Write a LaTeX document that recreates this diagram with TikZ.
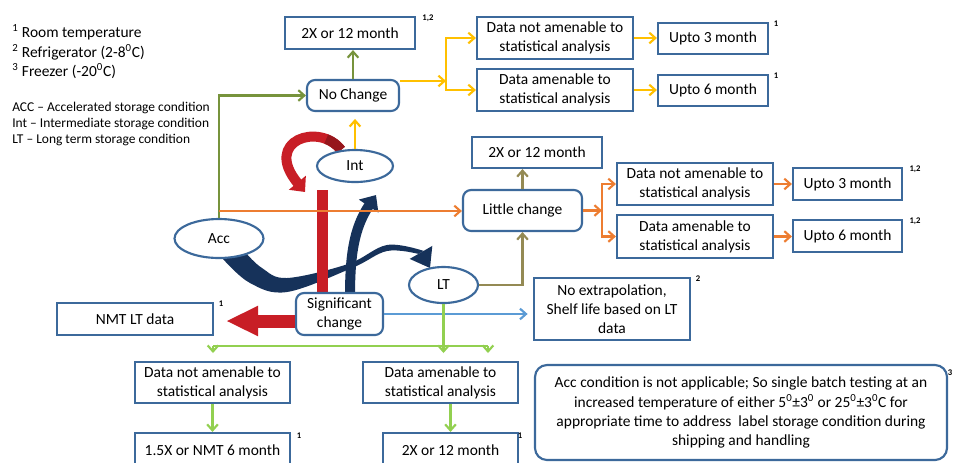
\documentclass[tikz,border=0pt]{standalone}
\usepackage{fontspec}
\setmainfont{Carlito}
\usetikzlibrary{arrows.meta,shapes.geometric,calc}
\definecolor{boxc}{RGB}{60,105,155}
\definecolor{gA}{RGB}{119,147,60}
\definecolor{olA}{RGB}{148,138,84}
\definecolor{lgA}{RGB}{146,208,80}
\definecolor{yA}{RGB}{255,192,0}
\definecolor{orA}{RGB}{237,125,49}
\definecolor{blA}{RGB}{91,155,213}
\definecolor{redc}{RGB}{200,30,38}
\definecolor{darkredc}{RGB}{150,22,28}
\definecolor{navyc}{RGB}{22,50,90}
\begin{document}
\begin{tikzpicture}[x=0.75pt,y=-0.75pt,
  font=\fontsize{11.6pt}{14.3pt}\selectfont,
  box/.style={draw=boxc, line width=1.6pt, fill=white, inner sep=0pt, align=center},
  rbox/.style={box, rounded corners=6pt},
  ell/.style={box, ellipse},
  conn/.style={line width=1.6pt, -{Straight Barb[length=4.5pt,width=8pt]}},
  ln/.style={line width=1.6pt},
  supl/.style={font=\fontsize{6.5pt}{7pt}\selectfont\bfseries, inner sep=0pt},
  legtxt/.style={anchor=base west, inner sep=0pt},
  legsm/.style={legtxt, font=\fontsize{10.1pt}{12pt}\selectfont},
]
\fill[white] (0,0) rectangle (955,462);
\useasboundingbox (0,0) rectangle (955,462);

% decorative block arrows (drawn first, under the nodes)
\fill[navyc] plot[smooth, tension=0.6] coordinates {(223,259) (250,283) (287,292) (352,268) (387,251) (418.4,253.9)}
   -- plot[smooth, tension=0.6] coordinates {(423.6,250.9) (387,245) (348,264) (287,278) (262,268) (246,253)} -- cycle;
\fill[navyc] (432.3,245.9) -- (430,268) -- (409.7,258.9) -- cycle;
\draw[navyc, line width=7.5pt, -{Triangle[length=10pt,width=17pt]}] (350,296) .. controls (350,255) and (354,228) .. (376,195);
\fill[redc] (317,190) rectangle (328,294);
\draw[redc, line width=7.5pt, -{Triangle[length=9pt,width=16pt]}] (341,150) .. controls (320,122) and (262,140) .. (305,192);
\draw[darkredc, line width=7.5pt, dash pattern=on 14pt off 400pt] (341,150) .. controls (320,122) and (262,140) .. (305,192);

% legend
\node[legtxt] (l1) at (12,37) {\textsuperscript{1} Room temperature};
\node[legtxt] (l2) at (12,57) {\textsuperscript{2} Refrigerator (2-8\textsuperscript{0}C)};
\node[legtxt] (l3) at (12,76) {\textsuperscript{3} Freezer (-20\textsuperscript{0}C)};
\node[legsm] (l4) at (12,111) {ACC – Accelerated storage condition};
\node[legsm] (l5) at (12,127) {Int – Intermediate storage condition};
\node[legsm] (l6) at (12,143) {LT – Long term storage condition};

% nodes
\node[box, minimum width=97.5pt, minimum height=24pt] (nc2x) at (350,33) {2X or 12 month};
\node[rbox, minimum width=69pt, minimum height=23.25pt] (nochange) at (353,95.5) {No Change};
\node[box, minimum width=117pt, minimum height=31.5pt] (d1) at (555,38) {Data not amenable to\\statistical analysis};
\node[box, minimum width=117pt, minimum height=31.5pt] (d2) at (555,90) {Data amenable to\\statistical analysis};
\node[box, minimum width=82.5pt, minimum height=23.25pt] (u1) at (713,38.5) {Upto 3 month};
\node[box, minimum width=82.5pt, minimum height=23.25pt] (u2) at (713,90.5) {Upto 6 month};
\node[ell, minimum width=57pt, minimum height=24pt] (int) at (355,166) {Int};
\node[ell, minimum width=66.75pt, minimum height=29.25pt] (acc) at (219,238.5) {Acc};
\node[box, minimum width=97.5pt, minimum height=23.25pt] (lc2x) at (537,152.5) {2X or 12 month};
\node[rbox, minimum width=89.25pt, minimum height=30.75pt] (little) at (522.5,210.5) {Little change};
\node[box, minimum width=117pt, minimum height=31.5pt] (d3) at (695,184) {Data not amenable to\\statistical analysis};
\node[box, minimum width=117pt, minimum height=32.25pt] (d4) at (695,236.5) {Data amenable to\\statistical analysis};
\node[box, minimum width=81.75pt, minimum height=24pt] (u3) at (847.5,184) {Upto 3 month};
\node[box, minimum width=81.75pt, minimum height=24pt] (u4) at (847.5,236) {Upto 6 month};
\node[ell, minimum width=51.75pt, minimum height=27pt] (lt) at (443.5,285) {LT};
\node[rbox, minimum width=65.25pt, minimum height=31.5pt] (sig) at (339.5,314) {Significant\\change};
\node[box, minimum width=117pt, minimum height=24pt] (nmt) at (135,319) {NMT LT data};
\node[box, minimum width=117pt, minimum height=46.5pt] (noext) at (612,309) {No extrapolation,\\Shelf life based on LT\\data};
\node[box, minimum width=116.25pt, minimum height=30.75pt] (d5) at (212.5,382.5) {Data not amenable to\\statistical analysis};
\node[box, minimum width=116.25pt, minimum height=30.75pt] (d6) at (440.5,382.5) {Data amenable to\\statistical analysis};
\node[box, minimum width=116.25pt, minimum height=26.25pt] (b1) at (212.5,450.5) {1.5X or NMT 6 month};
\node[box, minimum width=101.25pt, minimum height=26.25pt] (b2) at (450.5,450.5) {2X or 12 month};
\node[rbox, rounded corners=9pt, minimum width=309pt, minimum height=71.25pt] (accbox) at (741,412.5)
  {Acc condition is not applicable; So single batch testing at an\\
   increased temperature of either 5\textsuperscript{0}±3\textsuperscript{0} or 25\textsuperscript{0}±3\textsuperscript{0}C for\\
   appropriate time to address\ \ label storage condition during\\
   shipping and handling};

% superscript labels
\node[supl] (s1) at (428,18) {1,2};
\node[supl] (s2) at (776,24) {1};
\node[supl] (s3) at (776,76) {1};
\node[supl] (s4) at (915,169) {1,2};
\node[supl] (s5) at (915,221) {1,2};
\node[supl] (s6) at (221,304) {1};
\node[supl] (s7) at (698,279) {2};
\node[supl] (s8) at (299,436) {1};
\node[supl] (s9) at (520,436) {1};
\node[supl] (s10) at (950,373) {3};

% connectors
\draw[conn, gA] (acc.north) |- (nochange.west);
\coordinate (ao) at (219,211);
\draw[conn, orA] (ao) -- (ao -| little.west);
\draw[conn, gA] (nochange.north) -- (nochange.north |- nc2x.south);
\draw[conn, yA] (int.north) -- ++(0,-30);
\coordinate (yj) at (446,81);
\draw[conn, yA] (nochange.east |- yj) -- (yj);
\draw[conn, yA] (yj) |- (d1.west);
\draw[conn, yA] (yj) |- (d2.west);
\draw[conn, yA] (d1.east) -- (d1.east -| u1.west);
\draw[conn, yA] (d2.east) -- (d2.east -| u2.west);
\draw[conn, olA] (lt.east) -| (little.south);
\draw[conn, olA] (little.north) -- (little.north |- lc2x.south);
\coordinate (oj) at (602,210.5);
\draw[conn, orA] (little.east) -- (oj);
\draw[conn, orA] (oj) |- (d3.west);
\draw[conn, orA] (oj) |- (d4.west);
\draw[conn, orA] (d3.east) -- (d3.east -| u3.west);
\draw[conn, orA] (d4.east) -- (d4.east -| u4.west);
\draw[conn, blA, shorten >=4pt] (sig.east) -- (sig.east -| noext.west);
\coordinate (gl) at (213,346);
\coordinate (gr) at (488,346);
\draw[ln, lgA] (gl) -- (gr);
\draw[conn, lgA] (gl) -- ++(0,7);
\draw[conn, lgA] (gr) -- ++(0,7);
\draw[conn, lgA] (lt.south) -- ($(lt.south |- gl)+(0,7)$);
\draw[conn, lgA] (d5.south) -- (b1.north);
\draw[conn, lgA] (b2.north |- d6.south) -- (b2.north);
\coordinate (rs) at ($(sig.west)+(0,7)$);
\draw[redc, line width=9.75pt, -{Triangle[length=24pt,width=21pt]}, shorten >=9pt] (rs) -- (rs -| nmt.east);
\end{tikzpicture}
\end{document}
